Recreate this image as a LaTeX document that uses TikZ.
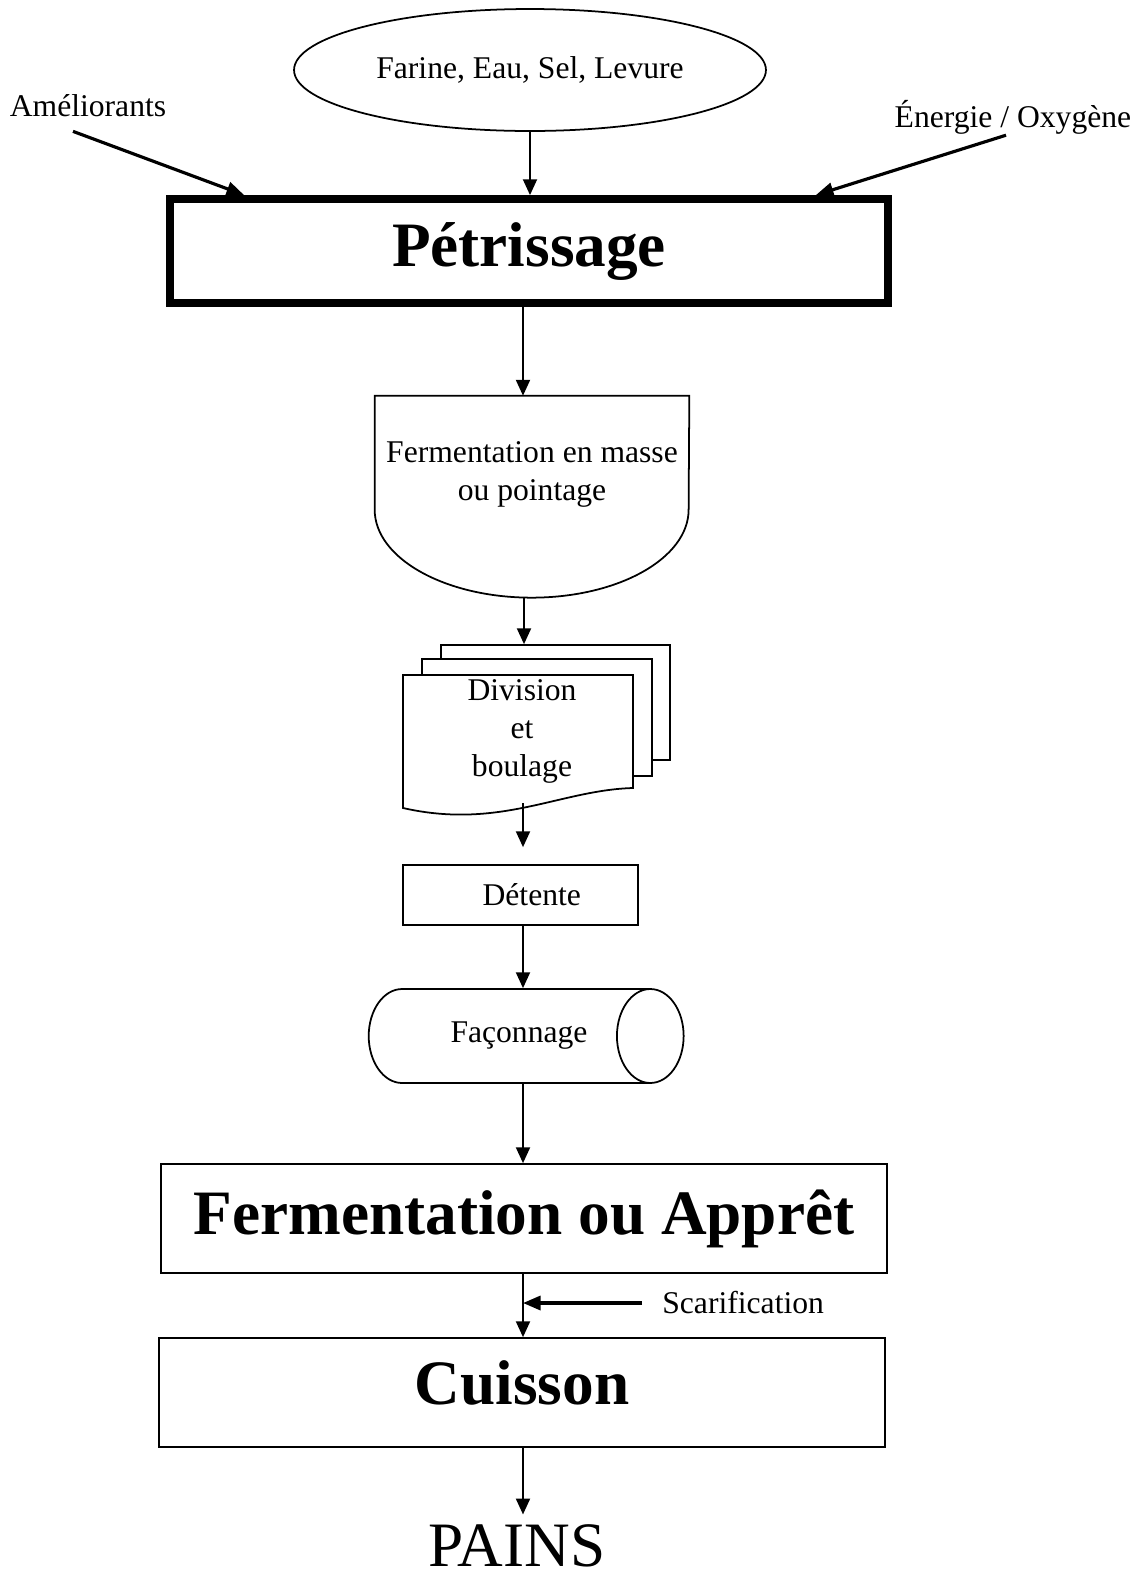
\documentclass[tikz,border=0pt]{standalone}
\usepackage{fontspec}
\setmainfont{Liberation Serif}
\usetikzlibrary{arrows.meta,positioning,shapes.geometric,calc}

\begin{document}
\begin{tikzpicture}[x=0.02cm, y=-0.02cm,
  txt/.style={font=\fontsize{18}{21.6}\selectfont, align=center},
  titre/.style={draw, line width=1pt, font=\fontsize{36}{40}\selectfont\bfseries,
                minimum width=14.52cm, minimum height=2.18cm},
  boite/.style={draw, line width=1pt, txt},
  feuille/.style={draw, fill=white, line width=1pt},
  arr/.style={-{Triangle[length=9pt,width=8pt]}, line width=1pt},
  arrg/.style={-{Triangle[length=10pt,width=8pt]}, line width=1.8pt}
]
  \useasboundingbox (0,0) rectangle (1143,1580);
  \coordinate (axe) at (523,0);

  \node[ellipse, draw, line width=1pt, txt, minimum width=9.44cm, minimum height=2.44cm] (farine) at (530,70) {Farine, Eau, Sel, Levure};
  \node[txt] (ameliorants) at (88,106) {Améliorants};
  \node[txt] (energie) at (1013,117) {Énergie / Oxygène};
  \node[titre, line width=4.5pt, minimum width=14.36cm, minimum height=2.08cm] (petrissage) at (529,251) {Pétrissage};

  \node[txt, minimum width=6.28cm, minimum height=3.12cm] (pointage) at (532,474) {Fermentation en masse\\ou pointage};
  \draw[line width=1pt] (pointage.north west) -- ++(0,114)
    arc[start angle=180, end angle=360, x radius=3.14cm, y radius=1.76cm] -- (pointage.north east) -- cycle;
  \coordinate (pointageBas) at (524,598);

  \node[feuille, minimum width=4.58cm, minimum height=2.3cm] (feuille3) at (555.5,702.5) {};
  \node[feuille, minimum width=4.6cm, minimum height=2.34cm] (feuille2) at (537,717.5) {};
  \draw[feuille] (403,675) -- (633,675) -- (633,788) .. controls (560,790) and (500,830) .. (403,808) -- cycle;
  \node[txt] (division) at (522,731) {Division\\et\\boulage};
  \coordinate (divisionBas) at (523,803);

  \node[boite, minimum width=4.7cm, minimum height=1.2cm] (detente) at (520.5,895) {\hspace*{0.45cm}Détente};
  \node[cylinder, draw, line width=1pt, txt, minimum width=1.88cm, minimum height=6.3cm, aspect=1.7] (faconnage) at (501,1036) {\hspace*{0.72cm}Façonnage};

  \node[titre] (appret) at (524,1218.5) {Fermentation ou Apprêt};
  \node[txt, anchor=west, inner sep=0pt] (scarif) at (662,1303) {Scarification};
  \node[titre, text depth=11pt] (cuisson) at (522,1392.5) {Cuisson};
  \node[font=\fontsize{36}{40}\selectfont, inner sep=0pt] (pains) at (517,1546) {PAINS};

  \draw[arr] (farine.south) -- (farine.south |- petrissage.north);
  \draw[arrg] ([shift={(-15,8)}]ameliorants.south) -- ([xshift=1.56cm]petrissage.north west);
  \draw[arrg] ([shift={(-7,-5)}]energie.south) -- ([xshift=-1.52cm]petrissage.north east);
  \draw[arr] (axe |- petrissage.south) -- (axe |- pointage.north);
  \draw[arr] (pointageBas) -- (pointageBas |- feuille3.north);
  \draw[arr, shorten >=0.34cm] (divisionBas) -- (divisionBas |- detente.north);
  \draw[arr] (axe |- detente.south) -- (axe |- faconnage.north);
  \draw[arr] (axe |- faconnage.south) -- (axe |- appret.north);
  \draw[arr] (axe |- appret.south) -- (axe |- cuisson.north);
  \draw[arrg, shorten <=0.4cm] (scarif.west) -- (axe |- scarif.west);
  \draw[arr, shorten >=0.2cm] (axe |- cuisson.south) -- (axe |- pains.north);
\end{tikzpicture}
\end{document}
